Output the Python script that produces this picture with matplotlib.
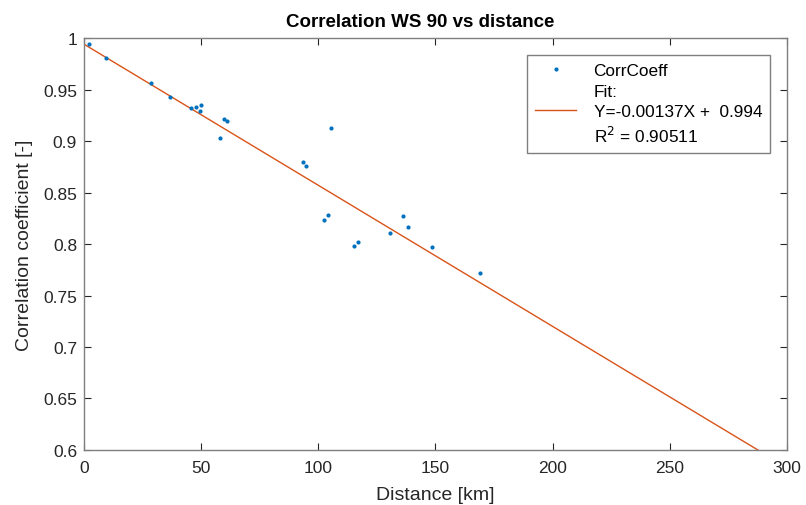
import numpy as np
import matplotlib.pyplot as plt
from matplotlib.lines import Line2D

plt.rcParams['font.family'] = ['Liberation Sans', 'DejaVu Sans']

distance = [2.1, 9.2, 28.6, 36.8, 45.5, 47.9, 49.8, 49.6, 58.2, 59.8, 61.0,
            93.6, 94.9, 102.3, 104.0, 105.3, 115.1, 116.8, 130.5, 136.2,
            138.3, 148.5, 169.0]
corr = [0.9945, 0.9806, 0.956, 0.9427, 0.932, 0.933, 0.935, 0.9294, 0.903,
        0.921, 0.9197, 0.8793, 0.8757, 0.8233, 0.8282, 0.9123, 0.7984,
        0.8016, 0.8107, 0.8272, 0.8168, 0.7974, 0.7718]
slope = -0.00137
intercept = 0.994
r2 = 0.90511
fit_x = [0, 300]

blue = (0, 0.447, 0.741)
orange = (0.85, 0.325, 0.098)
gray = '#262626'

fig = plt.figure(figsize=(8.06, 5.06), dpi=100)
ax = fig.add_axes([0.1042, 0.1087, 0.8722, 0.8142])

fit_y = [intercept + slope * x for x in fit_x]
ax.plot(fit_x, fit_y, color=orange, lw=1.0)
ax.plot(distance, corr, 'o', color=blue, ms=3, mec='none')

ax.set_xlim(0, 300)
ax.set_ylim(0.6, 1.0)
ax.set_xticks(np.arange(0, 301, 50))
ax.set_yticks(np.arange(0.6, 1.001, 0.05))
ax.set_yticklabels(['0.6', '0.65', '0.7', '0.75', '0.8', '0.85', '0.9', '0.95', '1'])
ax.tick_params(direction='in', top=True, right=True, labelsize=12.5, colors=gray,
               length=5, width=0.8, pad=5)
ax.tick_params(axis='x', pad=7)
for s in ax.spines.values():
    s.set_color('#7f7f7f')
    s.set_linewidth(1.0)

ax.set_xlabel('Distance [km]', fontsize=14, color=gray, labelpad=8)
ax.set_ylabel('Correlation coefficient [-]', fontsize=14, color=gray, labelpad=7)
ax.set_title('Correlation WS 90 vs distance', fontsize=13.5, fontweight='bold',
             pad=9, x=0.478)

blank = Line2D([], [], linestyle='none')
handles = [Line2D([], [], marker='o', ls='none', color=blue, ms=3, mec='none'),
           blank,
           Line2D([], [], color=orange, lw=1.0),
           blank]
labels = ['CorrCoeff', 'Fit:', 'Y=%.5fX +  %.3f' % (slope, intercept),
          r'R$^2$ = %.5f' % r2]
leg = ax.legend(handles, labels, loc='upper right', fontsize=12.4,
                bbox_to_anchor=(0.9758, 0.9587), borderaxespad=0,
                fancybox=False, framealpha=1, edgecolor='#7f7f7f',
                handlelength=2.4, handletextpad=1.0, labelspacing=0.33,
                borderpad=0.45)
leg.get_frame().set_linewidth(1.0)

fig.savefig('out.png', dpi=100)
